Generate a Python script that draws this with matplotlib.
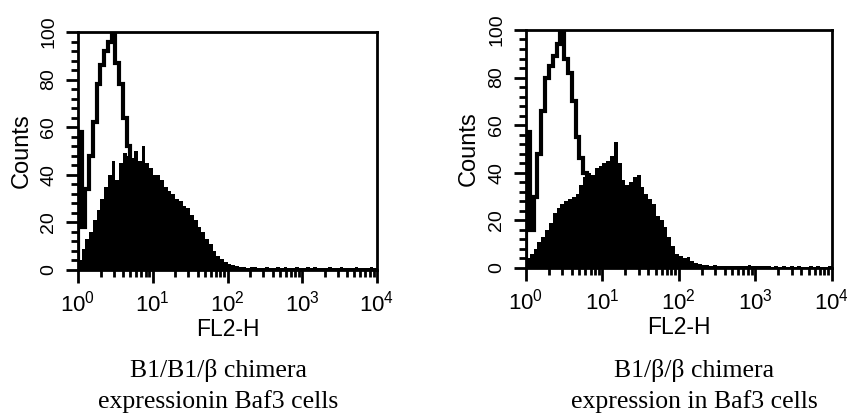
import matplotlib
matplotlib.use("Agg")
import matplotlib.pyplot as plt
import numpy as np
from matplotlib.ticker import LogLocator, MultipleLocator

# FL2-H channels: 80 log bins spanning 10^0 .. 10^4 (20 per decade)
edges = np.logspace(0, 4, 81)

# left panel: B1/B1/beta chimera
left_control = [58, 18, 34, 48, 62, 78, 86, 92, 96, 100, 87, 78, 64, 52, 44, 35,
                25, 16, 10, 6, 3, 2, 1, 1]
left_stained = [4, 9, 13, 16, 21, 25, 30, 35, 40, 46,
                38, 45, 49, 48, 47, 50, 46, 52, 45, 43,
                40, 40, 38, 35, 33, 32, 30, 29, 27, 26,
                23, 21, 18, 16, 13, 11, 8, 6, 4.5, 3.5,
                2.5, 2, 1.5, 1.2, 1.4, 0.9, 1.1, 1.3, 0.8, 1.0,
                1.2, 0.9, 1.0, 1.4, 0.8, 1.1, 0.9, 1.0, 1.2, 0.8,
                1.0, 1.1, 0.9, 1.3, 0.9, 1.0, 0.8, 1.1, 1.0, 0.9,
                1.2, 0.8, 1.0, 0.9, 1.1, 0.8, 1.0, 0.9, 1.1, 1.0]

# right panel: B1/beta/beta chimera
right_control = [57, 16, 30, 48, 66, 80, 85, 89, 94, 100, 88, 82, 70, 55, 46, 40,
                 34, 25, 18, 12, 8, 5, 3, 2]
right_stained = [4, 6, 8, 11, 13, 16, 19, 23, 25, 27,
                 28, 29, 30, 31, 35, 38, 40, 39, 42, 43,
                 44, 45, 47, 53, 44, 37, 35, 36, 38, 39,
                 34, 31, 29, 27, 22, 20, 17, 13, 9, 6,
                 5, 4, 4.5, 3, 2, 1.5, 1.3, 1.2, 1.0, 1.1,
                 0.8, 0.7, 0.9, 0.7, 0.8, 0.6, 0.7, 0.8, 1.2, 0.7,
                 0.6, 0.6, 0.7, 0.6, 0.5, 0.6, 0.5, 0.6, 0.5, 0.6,
                 0.5, 0.6, 0.5, 0.5, 0.6, 0.5, 0.6, 0.5, 0.5, 0.6]

captions = ["B1/B1/\u03b2 chimera\nexpressionin Baf3 cells",
            "B1/\u03b2/\u03b2 chimera\nexpression in Baf3 cells"]

plt.rcParams["font.family"] = ["Liberation Sans", "DejaVu Sans"]
plt.rcParams["mathtext.default"] = "regular"

fig = plt.figure(figsize=(8.47, 4.16), dpi=100)
ax_l = fig.add_axes([0.0921, 0.351, 0.353, 0.572])
ax_r = fig.add_axes([0.621, 0.356, 0.361, 0.572])

panels = [
    (ax_l, left_control, left_stained, captions[0], 0.258),
    (ax_r, right_control, right_stained, captions[1], 0.820),
]

for ax, control, stained, caption, cap_x in panels:
    ax.stairs(stained, edges, fill=True, color="black", lw=0)
    ax.stairs(control, edges[:len(control) + 1], color="black", lw=3, baseline=0)
    ax.set_xscale("log")
    ax.set_xlim(1, 1e4)
    ax.set_ylim(0, 100)
    for sp in ax.spines.values():
        sp.set_linewidth(2)
    ax.xaxis.set_major_locator(LogLocator(base=10, numticks=10))
    ax.xaxis.set_minor_locator(LogLocator(base=10, subs=np.arange(2, 10), numticks=10))
    ax.yaxis.set_major_locator(MultipleLocator(20))
    ax.yaxis.set_minor_locator(MultipleLocator(4))
    ax.tick_params(axis="both", which="major", direction="out", length=9, width=2)
    ax.tick_params(axis="both", which="minor", direction="out", length=5, width=2)
    ax.tick_params(axis="x", which="major", labelsize=16, pad=6)
    ax.tick_params(axis="y", which="major", labelsize=14, pad=6)
    for lab in ax.get_yticklabels():
        lab.set_rotation(90)
        lab.set_va("center")
    ax.set_ylabel("Counts", fontsize=17)
    ax.yaxis.set_label_coords(-0.15, 0.5)
    ax.set_xlabel("FL2-H", fontsize=16.5, labelpad=1)
    fig.text(cap_x, 0.072, caption, ha="center", va="center", fontsize=18.5,
             family="Liberation Serif", linespacing=1.45)

fig.savefig("out.png", dpi=100)
